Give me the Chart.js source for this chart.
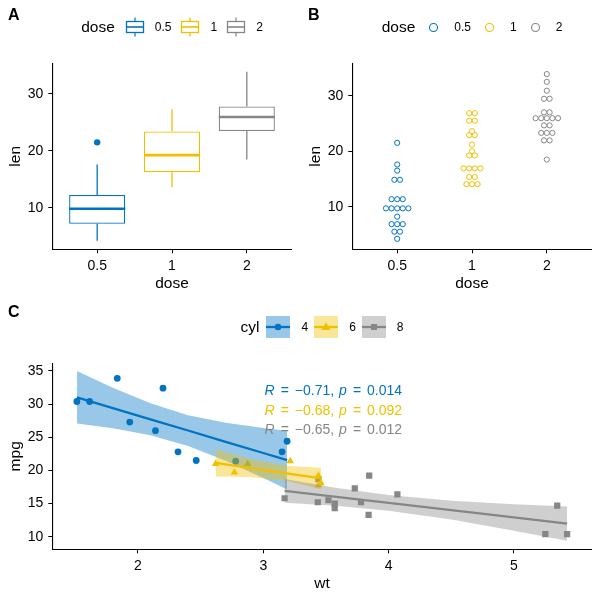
<!DOCTYPE html>
<html>
<head>
<meta charset="utf-8">
<script src="https://cdn.jsdelivr.net/npm/chart.js@4.4.0/dist/chart.umd.min.js"></script>
<style>
  body { margin: 0; background: #fff; font-family: "Liberation Sans", Arial, sans-serif; }
  #page { position: relative; width: 600px; height: 600px; overflow: hidden; background: #fff; }
  canvas.plot { position: absolute; }
  .tag { position: absolute; font-weight: bold; font-size: 16px; line-height: 16px; }
  .legend { position: absolute; display: flex; align-items: center; justify-content: center; }
  .legend .title { font-size: 15.5px; }
  .legend .lab { font-size: 12px; }
  .legend canvas { display: block; }
</style>
</head>
<body>
<div id="page">
  <canvas id="chartA" class="plot" width="300" height="300" style="left:0;top:0"></canvas>
  <canvas id="chartB" class="plot" width="300" height="300" style="left:300px;top:0"></canvas>
  <canvas id="chartC" class="plot" width="600" height="300" style="left:0;top:300px"></canvas>
  <div class="tag" style="left:8px;top:7px">A</div>
  <div class="tag" style="left:308px;top:7px">B</div>
  <div class="tag" style="left:8px;top:304px">C</div>
  <div id="legA" class="legend" style="left:52px;top:15px;width:240px;height:24px"></div>
  <div id="legB" class="legend" style="left:352px;top:15px;width:240px;height:24px"></div>
  <div id="legC" class="legend" style="left:52px;top:316px;width:540px;height:22px"></div>
</div>
<script>
// ---- data: ToothGrowth (len by dose) ----
var doseLabels = ['0.5', '1', '2'];
var doseX = [1, 2, 3];
var len05 = [4.2, 11.5, 7.3, 5.8, 6.4, 10, 11.2, 11.2, 5.2, 7, 15.2, 21.5, 17.6, 9.7, 14.5, 10, 8.2, 9.4, 16.5, 9.7];
var len1 = [16.5, 16.5, 15.2, 17.3, 22.5, 17.3, 13.6, 14.5, 18.8, 15.5, 19.7, 23.3, 23.6, 26.4, 20, 25.2, 25.8, 21.2, 14.5, 27.3];
var len2 = [23.6, 18.5, 33.9, 25.5, 26.4, 32.5, 26.7, 21.5, 23.3, 29.5, 25.5, 26.4, 22.4, 24.5, 24.8, 30.9, 26.4, 27.3, 29.4, 23];

// box stats
var boxLow = [4.2, 13.6, 18.5];
var boxQ1 = [7.2, 16.25, 23.5];
var boxMed = [9.85, 19.25, 25.95];
var boxQ3 = [12.25, 23.4, 27.8];
var boxHigh = [17.6, 27.3, 33.9];
var outlierDose = [1];
var outlierLen = [21.5];

var lenTicks = [10, 20, 30];

// ---- data: mtcars (mpg ~ wt by cyl) ----
var cylLabels = ['4', '6', '8'];
var wt4 = [2.32, 3.19, 3.15, 2.2, 1.615, 1.835, 2.465, 1.935, 2.14, 1.513, 2.78];
var mpg4 = [22.8, 24.4, 22.8, 32.4, 30.4, 33.9, 21.5, 27.3, 26, 30.4, 21.4];
var wt6 = [2.62, 2.875, 3.215, 3.46, 3.44, 3.44, 2.77];
var mpg6 = [21, 21, 21.4, 18.1, 19.2, 17.8, 19.7];
var wt8 = [3.44, 3.57, 4.07, 3.73, 3.78, 5.25, 5.424, 5.345, 3.52, 3.435, 3.84, 3.845, 3.17, 3.57];
var mpg8 = [18.7, 14.3, 16.4, 17.3, 15.2, 10.4, 10.4, 14.7, 15.5, 15.2, 13.3, 19.2, 15.8, 15];

// fitted line and confidence band
var bandX4 = [1.513, 1.8, 2.1, 2.4, 2.7, 3.0, 3.19];
var fit4 = [31.03, 29.41, 27.71, 26.02, 24.32, 22.63, 21.56];
var lo4 = [27.07, 26.36, 25.31, 23.69, 21.46, 18.87, 17.14];
var hi4 = [34.98, 32.46, 30.12, 28.34, 27.18, 26.39, 25.97];
var bandX6 = [2.62, 2.9, 3.2, 3.46];
var fit6 = [21.13, 20.35, 19.51, 18.79];
var lo6 = [19.08, 18.99, 18.35, 17.16];
var hi6 = [23.17, 21.70, 20.68, 20.42];
var bandX8 = [3.17, 3.6, 4.0, 4.5, 5.0, 5.424];
var fit8 = [16.92, 15.98, 15.10, 14.00, 12.91, 11.98];
var lo8 = [15.14, 14.63, 13.92, 12.58, 10.91, 9.40];
var hi8 = [18.70, 17.32, 16.28, 15.43, 14.90, 14.56];

var corR = [-0.71, -0.68, -0.65];
var corP = [0.014, 0.092, 0.012];
var corLabelX = 3.01;
var corLabelY = [31.4, 28.4, 25.5];

var wtTicks = [2, 3, 4, 5];
var mpgTicks = [10, 15, 20, 25, 30, 35];

// ---- style ----
var jco = ['#0073C2', '#EFC000', '#868686'];
var jcoBand = ['rgba(0,115,194,0.4)', 'rgba(239,192,0,0.4)', 'rgba(134,134,134,0.4)'];
var FONT = 'Liberation Sans, Arial, sans-serif';
Chart.defaults.font.family = FONT;
Chart.defaults.color = '#000';

var tickFont = { family: FONT, size: 14 };
var titleFont = { family: FONT, size: 15.5 };

function axisX(min, max, ticks, title, labelFn) {
  return {
    type: 'linear', min: min, max: max, offset: false,
    afterBuildTicks: function (s) { s.ticks = ticks.map(function (v) { return { value: v }; }); },
    afterFit: function (s) { s.height = 50.7; },
    ticks: { font: tickFont, color: '#000', padding: 4, maxRotation: 0,
      callback: labelFn || function (v) { return String(v); } },
    grid: { display: true, drawOnChartArea: false, drawTicks: true, tickLength: 4, color: '#000', offset: false },
    border: { display: true, color: '#000', width: 1.1 },
    title: { display: true, text: title, font: titleFont, color: '#000', padding: { top: 0, bottom: 6.5 } }
  };
}
function axisY(min, max, ticks, title) {
  return {
    type: 'linear', min: min, max: max,
    afterBuildTicks: function (s) { s.ticks = ticks.map(function (v) { return { value: v }; }); },
    afterFit: function (s) { s.width = 52.3; },
    ticks: { font: tickFont, color: '#000', padding: 5 },
    grid: { display: true, drawOnChartArea: false, drawTicks: true, tickLength: 4, color: '#000' },
    border: { display: true, color: '#000', width: 1.1 },
    title: { display: true, text: title, font: titleFont, color: '#000', padding: { top: 6.2, bottom: 0 } }
  };
}
var basePlugins = { legend: { display: false }, tooltip: { enabled: false } };
var pad = { top: 63.3, right: 8.3, bottom: 0, left: 0 };
function doseTick(v) { return doseLabels[v - 1]; }

// ---- panel A: box plot ----
var dsA = [{
  type: 'bar',
  data: doseX.map(function (x, i) { return { x: x, y: [boxQ1[i], boxQ3[i]] }; }),
  backgroundColor: '#fff', borderColor: jco, borderWidth: 1.3, borderSkipped: false,
  barPercentage: 0.75, categoryPercentage: 1, grouped: false, order: 3
}];
doseX.forEach(function (x, i) {
  dsA.push({
    type: 'line',
    data: [{ x: x, y: boxLow[i] }, { x: x, y: boxQ1[i] }, { x: x, y: null }, { x: x, y: boxQ3[i] }, { x: x, y: boxHigh[i] }],
    borderColor: jco[i], borderWidth: 1.3, pointRadius: 0, spanGaps: false, order: 2
  });
  dsA.push({
    type: 'line',
    data: [{ x: x - 0.375, y: boxMed[i] }, { x: x + 0.375, y: boxMed[i] }],
    borderColor: jco[i], borderWidth: 2.6, pointRadius: 0, order: 1
  });
});
dsA.push({
  type: 'scatter',
  data: outlierDose.map(function (d, i) { return { x: d, y: outlierLen[i] }; }),
  pointRadius: 3.2, backgroundColor: jco[0], borderWidth: 0, order: 0
});

new Chart(document.getElementById('chartA'), {
  type: 'scatter',
  data: { datasets: dsA },
  options: {
    responsive: false, animation: false, layout: { padding: pad }, plugins: basePlugins,
    scales: { x: axisX(0.4, 3.6, doseX, 'dose', doseTick), y: axisY(2.715, 35.385, lenTicks, 'len') }
  }
});

// ---- panel B: dot plot (dotdensity binning, centred stacks) ----
var binWidth = (33.9 - 4.2) / 30;
var dotStep = 0.075;
function dotBins(vals) {
  var s = vals.slice().sort(function (a, b) { return a - b; });
  var bins = [], i = 0;
  while (i < s.length) {
    var j = i;
    while (j < s.length && s[j] < s[i] + binWidth - 1e-9) j++;
    bins.push({ c: (s[i] + s[j - 1]) / 2, n: j - i });
    i = j;
  }
  return bins;
}
var dsB = [len05, len1, len2].map(function (vals, i) {
  var pts = [];
  dotBins(vals).forEach(function (b) {
    for (var k = 0; k < b.n; k++) pts.push({ x: doseX[i] + (k - (b.n - 1) / 2) * dotStep, y: b.c });
  });
  return { data: pts, pointRadius: 2.6, borderWidth: 1, borderColor: jco[i], backgroundColor: '#fff' };
});

new Chart(document.getElementById('chartB'), {
  type: 'scatter',
  data: { datasets: dsB },
  options: {
    responsive: false, animation: false, layout: { padding: pad }, plugins: basePlugins,
    scales: { x: axisX(0.4, 3.6, doseX, 'dose', doseTick), y: axisY(2.32, 35.84, lenTicks, 'len') }
  }
});

// ---- panel C: scatter + regression lines ----
var groupsC = [
  { wt: wt4, mpg: mpg4, bx: bandX4, fit: fit4, lo: lo4, hi: hi4, style: 'circle', r: 3.4 },
  { wt: wt6, mpg: mpg6, bx: bandX6, fit: fit6, lo: lo6, hi: hi6, style: 'triangle', r: 4.4 },
  { wt: wt8, mpg: mpg8, bx: bandX8, fit: fit8, lo: lo8, hi: hi8, style: 'rect', r: 4.4 }
];
function xy(xs, ys) { return xs.map(function (x, i) { return { x: x, y: ys[i] }; }); }
var dsC = [];
groupsC.forEach(function (g, i) {
  dsC.push({ type: 'scatter', data: xy(g.wt, g.mpg), pointStyle: g.style, pointRadius: g.r,
    backgroundColor: jco[i], borderColor: jco[i], borderWidth: 0, order: 20 });
});
groupsC.forEach(function (g, i) {
  var loIndex = dsC.length;
  dsC.push({ type: 'line', data: xy(g.bx, g.lo), borderWidth: 0, pointRadius: 0, fill: false, order: 10 - 2 * i });
  dsC.push({ type: 'line', data: xy(g.bx, g.hi), borderWidth: 0, pointRadius: 0,
    fill: { target: loIndex }, backgroundColor: jcoBand[i], order: 10 - 2 * i });
  dsC.push({ type: 'line', data: xy(g.bx, g.fit), borderColor: jco[i], borderWidth: 2.3, pointRadius: 0, order: 9 - 2 * i });
});

// "R = -0.71, p = 0.014" with italic R and p, spaced like plotmath
var corText = {
  id: 'corText',
  afterDatasetsDraw: function (chart) {
    var ctx = chart.ctx, sx = chart.scales.x, sy = chart.scales.y;
    var gap = 6;
    ctx.save();
    ctx.textBaseline = 'alphabetic';
    corR.forEach(function (r, i) {
      var px = sx.getPixelForValue(corLabelX), py = sy.getPixelForValue(corLabelY[i]);
      var parts = [
        ['R', true, gap], ['=', false, gap], ['\u2212' + Math.abs(r).toFixed(2) + ',', false, 5],
        ['p', true, gap], ['=', false, gap], [corP[i].toFixed(3), false, 0]
      ];
      ctx.fillStyle = jco[i];
      parts.forEach(function (p) {
        ctx.font = (p[1] ? 'italic ' : '') + '14px ' + FONT;
        ctx.fillText(p[0], px, py);
        px += ctx.measureText(p[0]).width + p[2];
      });
    });
    ctx.restore();
  }
};

new Chart(document.getElementById('chartC'), {
  type: 'scatter',
  data: { datasets: dsC },
  options: {
    responsive: false, animation: false, layout: { padding: pad }, plugins: basePlugins,
    scales: { x: axisX(1.317, 5.62, wtTicks, 'wt'), y: axisY(8.1, 36.16, mpgTicks, 'mpg') }
  },
  plugins: [corText]
});

// ---- legends ----
function buildLegend(id, title, labels, o, drawIcon) {
  var el = document.getElementById(id);
  var t = document.createElement('span');
  t.className = 'title'; t.textContent = title; t.style.marginRight = o.titleGap + 'px';
  el.appendChild(t);
  labels.forEach(function (lab, i) {
    var c = document.createElement('canvas');
    c.width = o.w; c.height = o.h;
    drawIcon(c.getContext('2d'), i, o.w, o.h);
    el.appendChild(c);
    var s = document.createElement('span');
    s.className = 'lab'; s.textContent = lab;
    s.style.marginLeft = o.before + 'px';
    s.style.marginRight = (i < labels.length - 1 ? o.after : 0) + 'px';
    el.appendChild(s);
  });
}

buildLegend('legA', 'dose', doseLabels, { w: 22, h: 24, titleGap: 9, before: 9, after: 8 }, function (ctx, i) {
  ctx.strokeStyle = jco[i];
  ctx.lineWidth = 1.3;
  ctx.strokeRect(2.5, 6.5, 17, 11);
  ctx.lineWidth = 1.6;
  ctx.beginPath(); ctx.moveTo(2.5, 12); ctx.lineTo(19.5, 12); ctx.stroke();
  ctx.lineWidth = 1.2;
  ctx.beginPath(); ctx.moveTo(11, 2.5); ctx.lineTo(11, 6); ctx.moveTo(11, 18); ctx.lineTo(11, 21.5); ctx.stroke();
});

buildLegend('legB', 'dose', doseLabels, { w: 17, h: 17, titleGap: 10, before: 12, after: 10 }, function (ctx, i) {
  ctx.strokeStyle = jco[i];
  ctx.lineWidth = 1.1;
  ctx.beginPath(); ctx.arc(8.5, 8.5, 4, 0, Math.PI * 2); ctx.stroke();
});

buildLegend('legC', 'cyl', cylLabels, { w: 24, h: 22, titleGap: 7, before: 11, after: 6 }, function (ctx, i, w, h) {
  ctx.fillStyle = jcoBand[i];
  ctx.fillRect(0, 0, w, h);
  ctx.strokeStyle = jco[i];
  ctx.lineWidth = 2.3;
  ctx.beginPath(); ctx.moveTo(0, 11); ctx.lineTo(w, 11); ctx.stroke();
  ctx.fillStyle = jco[i];
  ctx.beginPath();
  if (i === 0) ctx.arc(12, 11, 3.3, 0, Math.PI * 2);
  else if (i === 1) { ctx.moveTo(12, 6.5); ctx.lineTo(16.5, 14); ctx.lineTo(7.5, 14); ctx.closePath(); }
  else ctx.rect(9, 8, 6, 6);
  ctx.fill();
});
</script>
</body>
</html>
